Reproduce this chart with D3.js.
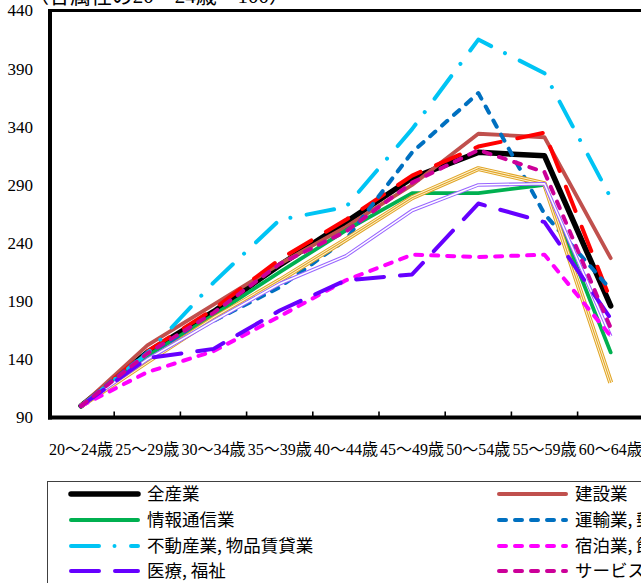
<!DOCTYPE html>
<html><head><meta charset="utf-8">
<script src="https://cdn.jsdelivr.net/npm/d3@7"></script>
<style>html,body{margin:0;padding:0;background:#fff;overflow:hidden}</style>
</head><body>
<svg id="c" width="641" height="583"></svg>
<script>
// ---- data ----
const categories = ["20～24歳","25～29歳","30～34歳","35～39歳","40～44歳","45～49歳","50～54歳","55～59歳","60～64歳"];
const yTickValues = [90,140,190,240,290,340,390,440];
const titleText = "（各属性の20～24歳＝100）";

const seriesNames = ["全産業","建設業","製造業","情報通信業","運輸業, 郵便業","卸売業, 小売業","金融業, 保険業","不動産業, 物品賃貸業","宿泊業, 飲食サービス業","医療, 福祉","サービス業（他に分類されないもの）"];
const allIndustries   = [100,146,181,221,258,296,318,315,186];
const construction    = [100,152,187,222,254,290,334,331,227];
const manufacturing   = [100,147,183,226,260,298,323,335,191];
const infoComm        = [100,143,178,215,251,283,283,290,146];
const transport       = [100,146,173,202,243,318,369,265,200];
const wholesale       = [100,138,175,208,243,279,304,291,120];
const finance         = [100,140,173,205,229,268,290,291,160];
const realEstate      = [100,145,206,260,271,338,415,386,279];
const accommodation   = [100,129,147,177,208,230,228,230,160];
const medical         = [100,141,149,182,208,213,274,258,175];
const services        = [100,145,180,222,250,292,320,301,167];
const seriesValues = [allIndustries,construction,manufacturing,infoComm,transport,wholesale,finance,realEstate,accommodation,medical,services];

// ---- styles ----
const styles = [
  {color:"#000000", w:5.5},
  {color:"#C0504D", w:3.8},
  {color:"#FF0000", w:4, dash:"26 17"},
  {color:"#00B050", w:3.8},
  {color:"#0070C0", w:4, dash:"7 9"},
  {color:"#E0A526", w:5, compound:"triple"},
  {color:"#9966FF", w:3.6, compound:"double"},
  {color:"#00C4F4", w:4, dash:"28 15.5 0.01 16.5"},
  {color:"#FF00FF", w:4, dash:"7 9"},
  {color:"#6600FF", w:4, dash:"28 16"},
  {color:"#CC0099", w:4, dash:"7 9"}
];
// legend entries visible in the picture: [series index, column, row]
const legendLayout = [[0,0,0],[3,0,1],[7,0,2],[9,0,3],[1,1,0],[4,1,1],[8,1,2],[10,1,3]];

const svg = d3.select("#c");
const serif = "'Liberation Serif','Noto Sans CJK JP',serif";

const x = d3.scaleBand().domain(categories).range([48, 643.8]).padding(0);
const y = d3.scaleLinear().domain([90,440]).range([417.5, 10.5]);
const cx = c => x(c) + x.bandwidth()/2;

// title (mostly cut off at top)
svg.append("text").attr("x",28).attr("y",3)
  .attr("font-family",serif).attr("font-size",21)
  .attr("textLength",262).attr("lengthAdjust","spacing")
  .text(titleText);

// y axis labels
const yAxis = d3.axisLeft(y).tickValues(yTickValues).tickSize(0).tickPadding(15);
const gy = svg.append("g").attr("transform","translate(48,0)").call(yAxis);
gy.select(".domain").remove();
gy.selectAll("text").attr("font-family",serif).attr("font-size",17).attr("fill","#000");

// x axis labels
const xAxis = d3.axisBottom(x).tickSize(0).tickPadding(0);
const gx = svg.append("g").attr("transform","translate(0,441)").call(xAxis);
gx.select(".domain").remove();
gx.selectAll("text").attr("font-family",serif).attr("font-size",16).attr("fill","#000").attr("dy","0.9em");

// plot frame
svg.append("line").attr("x1",48).attr("x2",700).attr("y1",y(440)).attr("y2",y(440))
  .attr("stroke","#000").attr("stroke-width",2.8);
// tick marks at category boundaries
svg.append("g").selectAll("line").data(categories.slice(1)).join("line")
  .attr("x1",d=>x(d)).attr("x2",d=>x(d))
  .attr("y1",y(90)).attr("y2",y(90)-6)
  .attr("stroke","#000").attr("stroke-width",1.6);

// series lines
const line = d3.line().x((v,i)=>cx(categories[i])).y(v=>y(v));
const gl = svg.append("g").attr("fill","none").attr("stroke-linejoin","round");
seriesValues.forEach((vals,k)=>{
  const s = styles[k];
  if (s.compound==="triple"){
    gl.append("path").attr("d",line(vals)).attr("stroke",s.color).attr("stroke-width",5);
    gl.append("path").attr("d",line(vals)).attr("stroke","#FFF4D8").attr("stroke-width",3);
    gl.append("path").attr("d",line(vals)).attr("stroke",s.color).attr("stroke-width",1.1);
  } else if (s.compound==="double"){
    gl.append("path").attr("d",line(vals)).attr("stroke",s.color).attr("stroke-width",s.w);
    gl.append("path").attr("d",line(vals)).attr("stroke","#ffffff").attr("stroke-width",1.5);
  } else {
    gl.append("path").attr("d",line(vals)).attr("stroke",s.color).attr("stroke-width",s.w)
      .attr("stroke-dasharray",s.dash||null).attr("stroke-linecap","round");
  }
});

// axes lines on top
svg.append("line").attr("x1",50).attr("x2",50).attr("y1",y(440)-1.4).attr("y2",y(90)+2)
  .attr("stroke","#000").attr("stroke-width",4);
svg.append("line").attr("x1",48).attr("x2",700).attr("y1",y(90)).attr("y2",y(90))
  .attr("stroke","#000").attr("stroke-width",4);

// legend
svg.append("rect").attr("x",47.5).attr("y",481.5).attr("width",800).attr("height",200)
  .attr("fill","none").attr("stroke","#404040").attr("stroke-width",1);
const colX = [71, 499];
const rowY = [494, 520, 546, 571];
const lg = svg.append("g");
legendLayout.forEach(([k,c,r])=>{
  const s = styles[k];
  const g = lg.append("g").attr("transform",`translate(${colX[c]},${rowY[r]})`);
  g.append("line").attr("x1",0).attr("x2",67).attr("y1",0).attr("y2",0)
    .attr("stroke",s.color).attr("stroke-width",k===0?5.5:4)
    .attr("stroke-linecap","round").attr("stroke-dasharray",s.dash||null);
  g.append("text").attr("x",76).attr("y",0).attr("dy","0.36em")
    .attr("font-family","'Noto Sans CJK JP',sans-serif").attr("font-size",17.5)
    .attr("fill","#000").text(seriesNames[k]);
});
</script>
</body></html>
